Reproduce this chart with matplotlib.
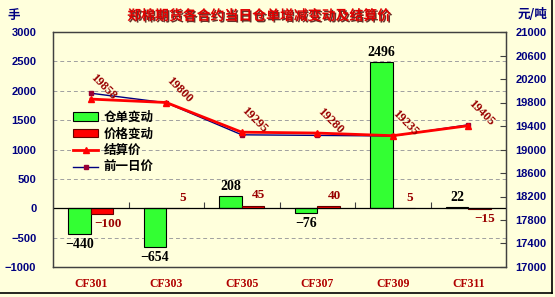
import matplotlib
matplotlib.use("Agg")
import matplotlib.pyplot as plt
from matplotlib.lines import Line2D
from matplotlib.patches import Patch
import matplotlib.patheffects as pe
import numpy as np

plt.rcParams['font.family'] = ['Noto Sans CJK SC', 'DejaVu Sans']

# data
contracts = ['CF301', 'CF303', 'CF305', 'CF307', 'CF309', 'CF311']
receipt_chg = [-440, -654, 208, -76, 2496, 22]
price_chg = [-100, 5, 45, 40, 5, -15]
settle = [19858, 19800, 19295, 19280, 19235, 19405]
prev_price = [19958, 19795, 19250, 19240, 19230, 19420]

bg = '#FFFFDC'
navy = '#000080'
dred = '#990000'

fig = plt.figure(figsize=(5.55, 2.97), dpi=100, facecolor=bg)
ax = fig.add_axes([53/555, 30/297, 453/555, 235/297])
ax.set_facecolor(bg)
ax2 = ax.twinx()

x = np.arange(len(contracts))
w = 0.3
ax.bar(x - w/2, receipt_chg, w, color='#33FF33', edgecolor='black', linewidth=0.8, zorder=3)
ax.bar(x + w/2, price_chg, w, color='#FF0000', edgecolor='#660000', linewidth=0.8, zorder=3)

ax.set_ylim(-1000, 3000)
ax.set_xlim(-0.5, 5.5)
ax.set_yticks(np.arange(-1000, 3001, 500))
for v in np.arange(-500, 3000, 500):
    if v != 0:
        ax.axhline(v, color='#A0A0A0', linestyle=(0, (4, 3)), linewidth=0.7, zorder=1)
ax.axhline(0, color='black', linewidth=0.9, zorder=4)

ax.set_xticks(x)
ax.set_xticklabels(contracts, color='#B00000', fontweight='bold',
                   family=['Liberation Serif'], fontsize=8.5)
ax.tick_params(axis='x', length=0, pad=8)
ax.tick_params(axis='y', length=0, pad=12, labelsize=8, labelcolor=navy)
for t in ax.get_yticklabels():
    t.set_fontweight('bold')
    t.set_family(['Liberation Sans'])

# small category ticks on the zero line
sec = ax.secondary_xaxis(0.25)
sec.set_xticks(np.arange(0.5, 5, 1))
sec.tick_params(axis='x', direction='in', length=4, labelbottom=False, color='#404040')
sec.spines['bottom'].set_visible(False)

for s in ax.spines.values():
    s.set_color('#404040')
    s.set_linewidth(0.9)

# bar labels
for xi, v in zip(x, receipt_chg):
    lab = str(v).replace('-', '\u2212')
    ax.annotate(lab, (xi - w/2, v), xytext=(0, 2 if v >= 0 else -3), textcoords='offset points',
                ha='center', va='bottom' if v >= 0 else 'top', fontsize=10,
                fontweight='bold', family=['Liberation Serif'], color='black', zorder=6)
for xi, v in zip(x, price_chg):
    lab = str(v).replace('-', '\u2212')
    ax.annotate(lab, (xi + w/2, v), xytext=(4, 3 if v >= 0 else -3), textcoords='offset points',
                ha='center', va='bottom' if v >= 0 else 'top', fontsize=9.5,
                fontweight='bold', family=['Liberation Serif'], color=dred, zorder=6)

# price lines
ax2.plot(x, prev_price, color=navy, linewidth=1, marker='s', markersize=2.5,
         markerfacecolor='#990033', markeredgecolor='#990033', zorder=4)
ax2.plot(x, settle, color='#FF0000', linewidth=2, marker='^', markersize=5,
         markerfacecolor='#FF0000', markeredgecolor='#FF0000', zorder=5)
ax2.set_ylim(17000, 21000)
ax2.set_yticks(np.arange(17000, 21001, 400))
ax2.tick_params(axis='y', direction='in', length=4, pad=7, labelsize=8,
                labelcolor=navy, color='#404040')
for t in ax2.get_yticklabels():
    t.set_fontweight('bold')
    t.set_family(['Liberation Sans'])
for s in ax2.spines.values():
    s.set_color('#404040')
    s.set_linewidth(0.9)

for xi, v in zip(x, settle):
    ax2.annotate(str(v), (xi, v), xytext=(9, 9), textcoords='offset points',
                 ha='center', va='center', rotation=-45, fontsize=9,
                 fontweight='bold', family=['Liberation Serif'], color=dred, zorder=6)

handles = [
    Patch(facecolor='#33FF33', edgecolor='black', linewidth=0.8),
    Patch(facecolor='#FF0000', edgecolor='#660000', linewidth=0.8),
    Line2D([], [], color='#FF0000', linewidth=2, marker='^', markersize=5),
    Line2D([], [], color=navy, linewidth=1, marker='s', markersize=2.5,
           markerfacecolor='#990033', markeredgecolor='#990033'),
]
labels = ['仓单变动', '价格变动', '结算价', '前一日价']
ax2.legend(handles, labels, loc='upper left', bbox_to_anchor=(0.045, 0.665),
           frameon=False, borderaxespad=0, borderpad=0, handlelength=2.0,
           handleheight=0.7, handletextpad=0.4, labelspacing=0.3,
           prop={'family': ['Noto Sans CJK SC'], 'weight': 'bold', 'size': 9})

fig.text(259/555, 1 - 16/297, '郑棉期货各合约当日仓单增减变动及结算价', ha='center', va='center',
         color='#E00000', fontsize=10, fontweight='bold',
         path_effects=[pe.withSimplePatchShadow(offset=(1, -1), shadow_rgbFace='#400000', alpha=0.8)])
fig.text(14/555, 1 - 15/297, '手', ha='center', va='center', color=navy,
         fontsize=9, fontweight='bold')
fig.text(533/555, 1 - 15/297, '元/吨', ha='center', va='center', color=navy,
         fontsize=9, fontweight='bold')

# border on right and bottom
fig.add_artist(Line2D([0, 552/555], [4/297, 4/297], color='black', linewidth=1.2,
                      transform=fig.transFigure))
fig.add_artist(Line2D([552/555, 552/555], [4/297, 1], color='black', linewidth=1.2,
                      transform=fig.transFigure))

fig.savefig('out.png', dpi=100, facecolor=bg)
